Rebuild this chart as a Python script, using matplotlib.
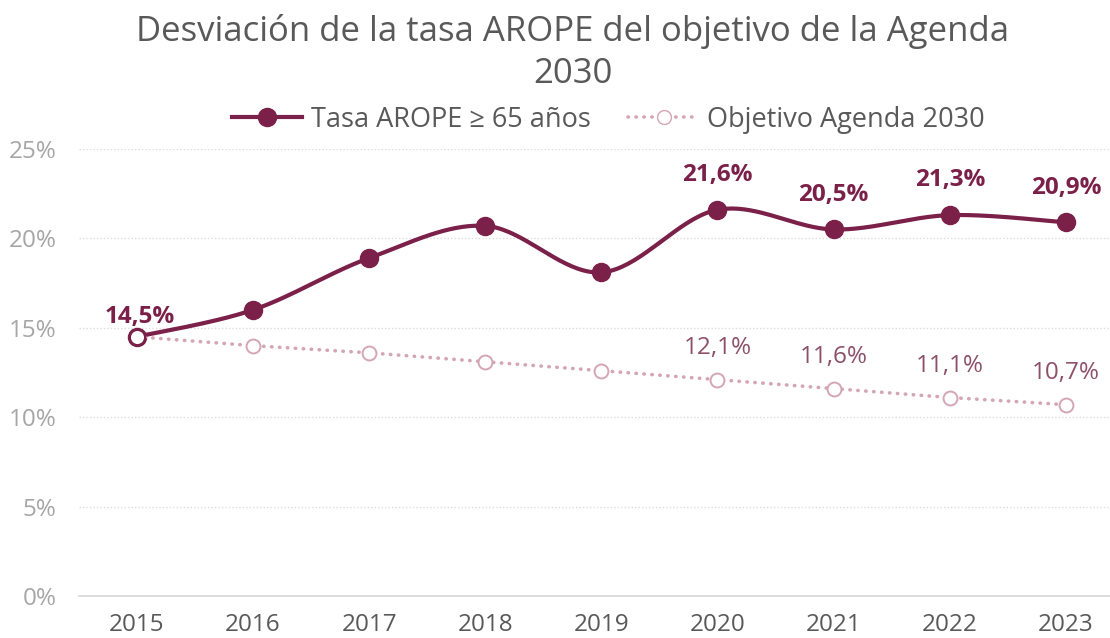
import numpy as np
import matplotlib.pyplot as plt
from matplotlib.lines import Line2D

years = ["2015", "2016", "2017", "2018", "2019", "2020", "2021", "2022", "2023"]
arope = [14.5, 16.0, 18.9, 20.7, 18.1, 21.6, 20.5, 21.3, 20.9]
objetivo = [14.5, 14.0, 13.6, 13.1, 12.6, 12.1, 11.6, 11.1, 10.7]
yticks = [0, 5, 10, 15, 20, 25]

# only these points get a value label
arope_labels = [0, 5, 6, 7, 8]
obj_labels = [5, 6, 7, 8]

MAROON = "#7B2049"
PINK = "#D4A5B6"
OBJ_TEXT = "#8C5068"

plt.rcParams["font.family"] = ["Open Sans", "DejaVu Sans"]


def smooth(xs, ys, n=40):
    # bezier smoothing similar to spreadsheet "smoothed line"
    x = np.asarray(xs, float)
    y = np.asarray(ys, float)
    px = np.concatenate([[x[0]], x, [x[-1]]])
    py = np.concatenate([[y[0]], y, [y[-1]]])
    out_x, out_y = [], []
    t = np.linspace(0, 1, n)
    for i in range(len(x) - 1):
        p0 = np.array([x[i], y[i]])
        p3 = np.array([x[i + 1], y[i + 1]])
        p1 = p0 + (np.array([px[i + 2], py[i + 2]]) - np.array([px[i], py[i]])) / 6
        p2 = p3 - (np.array([px[i + 3], py[i + 3]]) - np.array([px[i + 1], py[i + 1]])) / 6
        b = ((1 - t) ** 3)[:, None] * p0 + (3 * (1 - t) ** 2 * t)[:, None] * p1 \
            + (3 * (1 - t) * t ** 2)[:, None] * p2 + (t ** 3)[:, None] * p3
        out_x.extend(b[:, 0])
        out_y.extend(b[:, 1])
    return np.array(out_x), np.array(out_y)


fig = plt.figure(figsize=(11.1, 6.38), dpi=100)
ax = fig.add_axes([0.071, 0.0658, 0.929, 0.7007])

xpos = np.arange(len(years))
sx, sy = smooth(xpos, arope)
ax.plot(sx, sy, color=MAROON, lw=3, solid_capstyle="round", zorder=3)
ax.plot(xpos, arope, "o", color=MAROON, ms=13, zorder=4)

ax.plot(xpos, objetivo, color=PINK, lw=2.6, linestyle=(0, (0.1, 2.1)),
        dash_capstyle="round", zorder=5)
ax.plot(xpos, objetivo, "o", mfc="white", mec=PINK, mew=1.4, ms=10, zorder=6)
ax.plot(xpos[0], objetivo[0], "o", mfc="white", mec=MAROON, mew=1.6, ms=11, zorder=6)

for i in arope_labels:
    txt = f"{arope[i]:.1f}%".replace(".", ",")
    dx = 2 if i == 0 else 0
    dy = 14 if i == 0 else 25
    ax.annotate(txt, (xpos[i], arope[i]), xytext=(dx, dy), textcoords="offset points",
                ha="center", va="center",
                fontsize=17.5, fontweight="bold", color=MAROON, zorder=7)
for i in obj_labels:
    txt = f"{objetivo[i]:.1f}%".replace(".", ",")
    ax.annotate(txt, (xpos[i], objetivo[i]), xytext=(0, 23), textcoords="offset points",
                ha="center", va="center", fontsize=17.5, color=OBJ_TEXT, zorder=7)

ax.set_xlim(-0.5, 8.38)
ax.set_ylim(0, 25)
ax.set_xticks(xpos)
ax.set_xticklabels(years)
ax.set_yticks(yticks)
ax.set_yticklabels([f"{v}%" for v in yticks])
ax.tick_params(axis="x", length=0, pad=12, labelsize=17.5, labelcolor="#595959")
ax.tick_params(axis="y", length=0, pad=16, labelsize=17.5, labelcolor="#A6A6A6")

for v in yticks[1:]:
    ax.axhline(v, color="#DDDDDD", lw=1, linestyle=(0, (1, 1.5)), zorder=1)
for side in ["top", "right", "left"]:
    ax.spines[side].set_visible(False)
ax.spines["bottom"].set_color("#D9D9D9")
ax.spines["bottom"].set_linewidth(1.3)

fig.text(0.516, 0.978, "Desviación de la tasa AROPE del objetivo de la Agenda\n2030",
         ha="center", va="top", fontsize=25, color="#595959", linespacing=1.3)

handles = [
    Line2D([], [], color=MAROON, lw=3, marker="o", ms=13),
    Line2D([], [], color=PINK, lw=2.6, linestyle=(0, (0.1, 2.1)), dash_capstyle="round",
           marker="o", mfc="white", mec=PINK, ms=10),
]
fig.legend(handles, ["Tasa AROPE ≥ 65 años", "Objetivo Agenda 2030"],
           loc="center", bbox_to_anchor=(0.548, 0.812), ncol=2, frameon=False,
           fontsize=19.5, labelcolor="#595959", handlelength=2.6, columnspacing=1.4,
           handletextpad=0.3)

fig.savefig("out.png", dpi=100)
